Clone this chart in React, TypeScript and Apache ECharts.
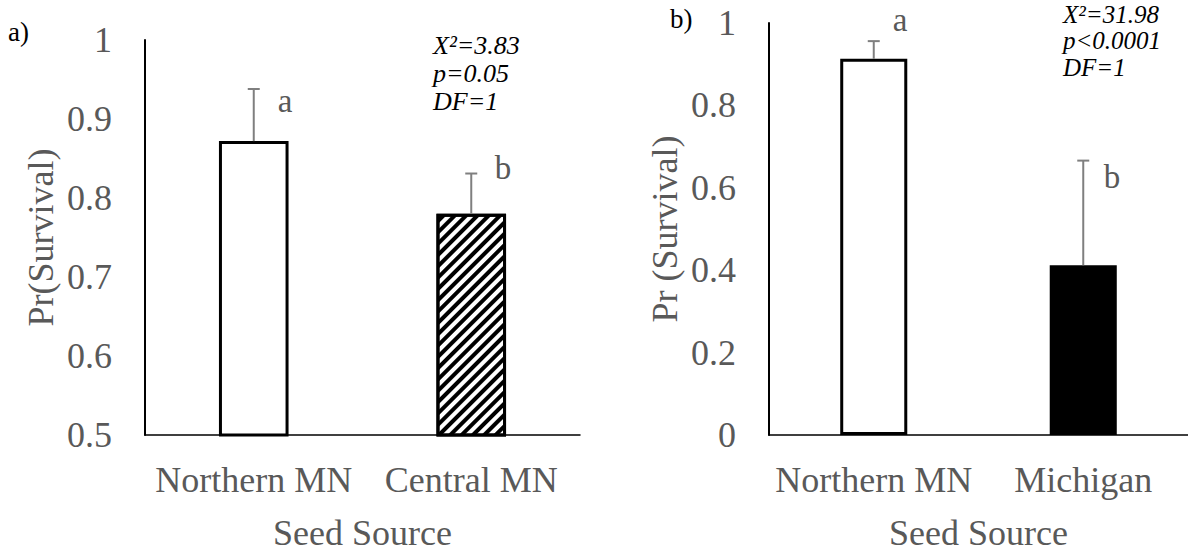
import React, { useEffect, useRef } from "react";
import * as echarts from "echarts";

const categoriesA = ["Northern MN", "Central MN"];
const valuesA = [0.872, 0.78];
const upperA = [0.938, 0.831];
const lettersA = ["a", "b"];
const statsA = ["X²=3.83", "p=0.05", "DF=1"];

const categoriesB = ["Northern MN", "Michigan"];
const valuesB = [0.913, 0.412];
const upperB = [0.956, 0.666];
const lettersB = ["a", "b"];
const statsB = ["X²=31.98", "p<0.0001", "DF=1"];

const FONT = "'Liberation Serif', 'Times New Roman', serif";
const GRAY = "#595959";

function fmt(v: number) {
  return String(+v.toFixed(1));
}

export default function App() {
  const ref = useRef<HTMLDivElement>(null);
  useEffect(() => {
    if (!ref.current) return;
    const chart = echarts.init(ref.current, null, { renderer: "svg" });

    const axisLabel = { fontSize: 36, color: GRAY, fontFamily: FONT };
    const yAxisBase = (gridIndex: number, min: number, max: number, interval: number, name: string) => ({
      type: "value",
      gridIndex,
      min,
      max,
      interval,
      name,
      nameLocation: "middle",
      nameGap: 86,
      nameTextStyle: { fontSize: 36, color: GRAY, fontFamily: FONT },
      axisLine: { show: true, lineStyle: { color: "#000", width: 2 } },
      axisTick: { show: false },
      splitLine: { show: false },
      axisLabel: { ...axisLabel, margin: 33, formatter: (v: number) => fmt(v) },
    });
    const xAxisBase = (gridIndex: number, data: string[]) => ({
      type: "category",
      gridIndex,
      data,
      name: "Seed Source",
      nameLocation: "middle",
      nameGap: 80,
      nameTextStyle: { fontSize: 36, color: GRAY, fontFamily: FONT },
      axisLine: { show: true, lineStyle: { color: "#000", width: 1.5 } },
      axisTick: { show: false },
      axisLabel: { ...axisLabel, margin: 27, interval: 0 },
    });

    const errRender = (params: any, api: any) => {
      const c = api.value(0);
      const base = api.coord([c, api.value(1)]);
      const top = api.coord([c, api.value(2)]);
      const style = { stroke: "#7f7f7f", lineWidth: 2 };
      return {
        type: "group",
        children: [
          { type: "line", shape: { x1: base[0], y1: base[1], x2: top[0], y2: top[1] }, style },
          { type: "line", shape: { x1: top[0] - 6, y1: top[1], x2: top[0] + 6, y2: top[1] }, style },
        ],
      };
    };

    const barStyle = { color: "#fff", borderColor: "#000", borderWidth: 3 };

    const textEl = (x: number, y: number, text: string, extra: any) => ({
      type: "text",
      x,
      y,
      style: { text, fontFamily: FONT, verticalAlign: "middle", ...extra },
    });

    const graphics: any[] = [
      textEl(8, 32, "a)", { fontSize: 27, fill: "#000", align: "left" }),
      textEl(670, 19, "b)", { fontSize: 27, fill: "#000", align: "left" }),
      textEl(285, 101, lettersA[0], { fontSize: 33, fill: GRAY, align: "center" }),
      textEl(503, 168, lettersA[1], { fontSize: 33, fill: GRAY, align: "center" }),
      textEl(900, 20, lettersB[0], { fontSize: 33, fill: GRAY, align: "center" }),
      textEl(1112, 177, lettersB[1], { fontSize: 33, fill: GRAY, align: "center" }),
      ...statsA.map((s, i) => textEl(433, 45 + i * 28, s, { fontSize: 26, fontStyle: "italic", fill: "#000", align: "left" })),
      ...statsB.map((s, i) => textEl(1063, 14 + i * 26.5, s, { fontSize: 25, fontStyle: "italic", fill: "#000", align: "left" })),
    ];

    chart.setOption({
      animation: false,
      backgroundColor: "#fff",
      textStyle: { fontFamily: FONT },
      grid: [
        { left: 145, top: 40, width: 435, height: 403 },
        { left: 769, top: 23, width: 425, height: 420 },
      ],
      xAxis: [xAxisBase(0, categoriesA), xAxisBase(1, categoriesB)],
      yAxis: [
        yAxisBase(0, 0.5, 1, 0.1, "Pr(Survival)"),
        yAxisBase(1, 0, 1, 0.2, "Pr (Survival)"),
      ],
      series: [
        {
          type: "bar",
          xAxisIndex: 0,
          yAxisIndex: 0,
          barWidth: "32%",
          data: [
            { value: valuesA[0], itemStyle: { ...barStyle } },
            {
              value: valuesA[1],
              itemStyle: {
                ...barStyle,
                decal: {
                  symbol: "rect",
                  symbolSize: 1,
                  dashArrayX: [1, 0],
                  dashArrayY: [4, 4],
                  rotation: -Math.PI / 4,
                  color: "#000",
                  backgroundColor: "#fff",
                },
              },
            },
          ],
        },
        {
          type: "custom",
          xAxisIndex: 0,
          yAxisIndex: 0,
          z: 5,
          renderItem: errRender,
          encode: { x: 0, y: [1, 2] },
          data: valuesA.map((v, i) => [i, v, upperA[i]]),
        },
        {
          type: "bar",
          xAxisIndex: 1,
          yAxisIndex: 1,
          barWidth: "32%",
          data: [
            { value: valuesB[0], itemStyle: { ...barStyle } },
            { value: valuesB[1], itemStyle: { color: "#000", borderColor: "#000", borderWidth: 3 } },
          ],
        },
        {
          type: "custom",
          xAxisIndex: 1,
          yAxisIndex: 1,
          z: 5,
          renderItem: errRender,
          encode: { x: 0, y: [1, 2] },
          data: valuesB.map((v, i) => [i, v, upperB[i]]),
        },
      ],
      graphic: graphics,
    });

    return () => chart.dispose();
  }, []);

  return (
    <div
      ref={ref}
      style={{ position: "fixed", left: 0, top: 0, width: 1188, height: 556, background: "#fff" }}
    />
  );
}
